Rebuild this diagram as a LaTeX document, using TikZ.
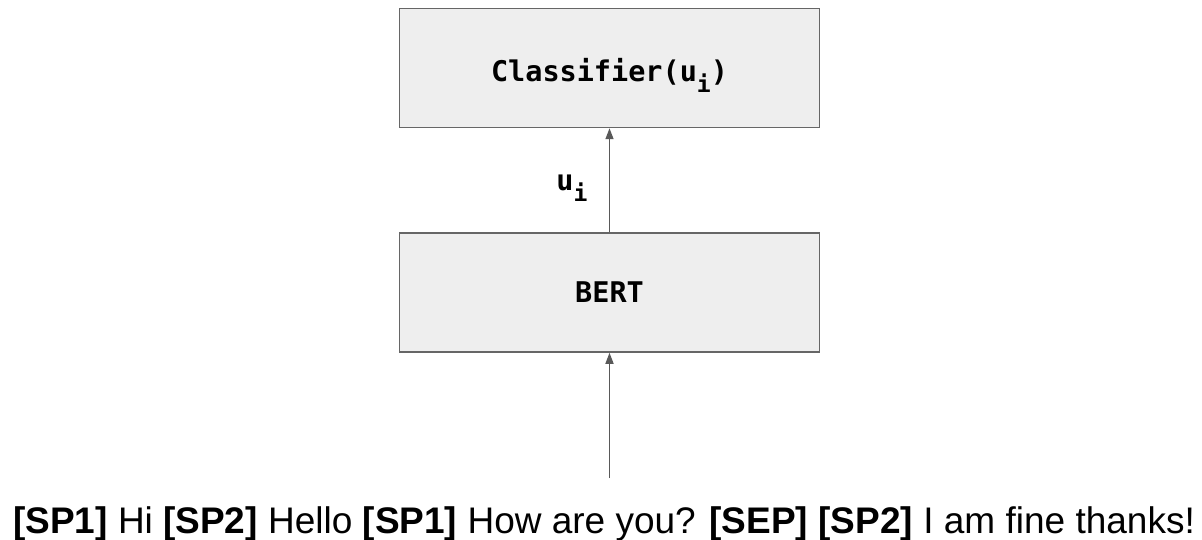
\documentclass[tikz,border=0pt]{standalone}
\usepackage{fontspec}
\setmainfont{Liberation Sans}
\setmonofont{DejaVu Sans Mono}
\usetikzlibrary{positioning,arrows.meta}
\definecolor{boxfill}{HTML}{EEEEEE}
\definecolor{boxline}{HTML}{666666}
\definecolor{arrowline}{HTML}{595959}
\newcommand{\subtxt}[1]{\raisebox{-0.38em}{\fontsize{23}{23}\selectfont #1}}
\begin{document}
\begin{tikzpicture}[x=1pt, y=-1pt, >={Triangle[length=11pt,width=8pt]},
  layer/.style={draw=boxline, fill=boxfill, line width=1.5pt,
    minimum width=420pt, minimum height=119pt,
    font=\fontsize{28.5}{32}\selectfont\ttfamily\bfseries},
  flow/.style={->, draw=arrowline, fill=arrowline, line width=1.5pt}]
  \useasboundingbox (0,0) rectangle (1202,540);
  \node[layer] (clf) at (609.5,68) {};
  \node[font=\fontsize{28.5}{32}\selectfont\ttfamily\bfseries, anchor=base] (clftxt) at (609.5,82) {Classifier(u\subtxt{i})};
  \node[layer, below=104pt of clf] (bert) {BERT};
  \node[anchor=base, font=\fontsize{37}{40}\selectfont] (utt) at (604,533)
    {\textbf{[SP1]} Hi \textbf{[SP2]} Hello \textbf{[SP1]} How are you? \textbf{[SEP]} \textbf{[SP2]} I am fine thanks!};
  \coordinate (in) at (609.5,478);
  \draw[flow] (in) -- (bert);
  \draw[flow] (bert) -- node[left=18pt, yshift=-8pt, font=\fontsize{28.5}{32}\selectfont\ttfamily\bfseries] (ui) {u\subtxt{i}} (clf);
\end{tikzpicture}
\end{document}
